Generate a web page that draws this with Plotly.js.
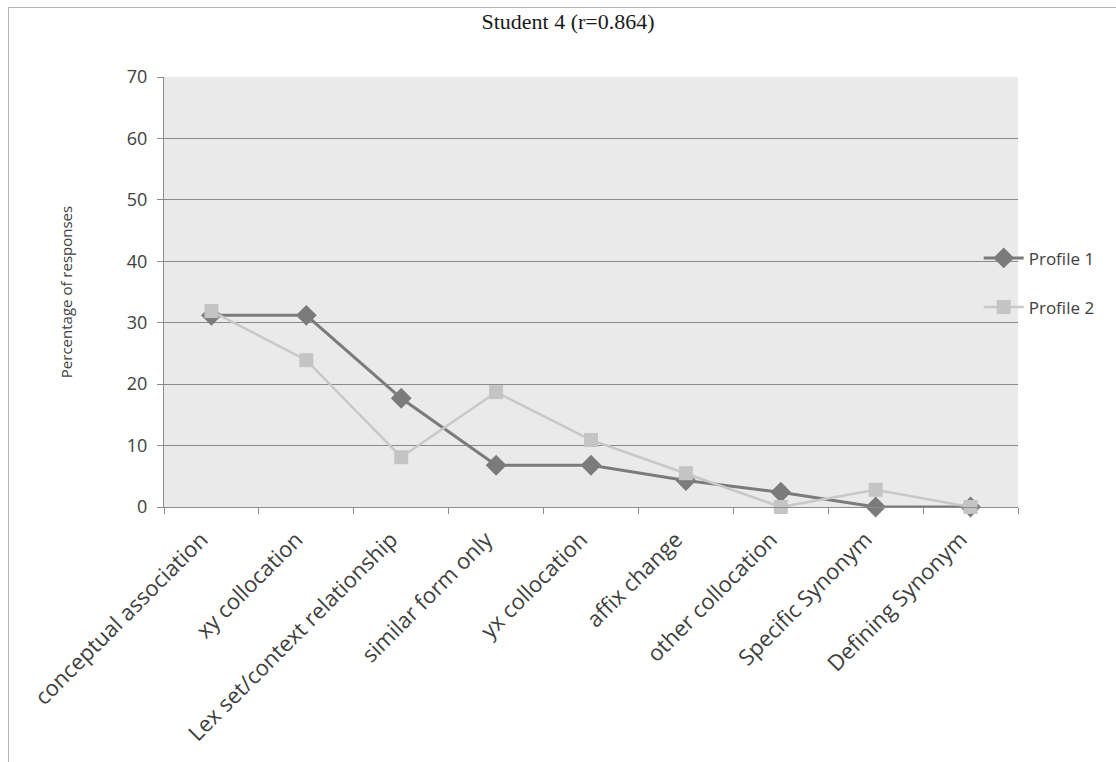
<!DOCTYPE html>
<html>
<head>
<meta charset="utf-8">
<script src="https://cdn.plot.ly/plotly-3.0.1.min.js"></script>
<style>
  html, body { margin: 0; padding: 0; background: #ffffff; }
  #frame { position: absolute; left: 8px; top: 7px; width: 1108px; height: 755px;
           border-left: 1px solid #b5b5b5; border-top: 1px solid #b5b5b5; box-sizing: border-box; }
  #chart { width: 1107px; height: 754px; }
</style>
</head>
<body>
<div id="frame"><div id="chart"></div></div>
<script>
const categories = [
  "conceptual association",
  "xy collocation",
  "Lex set/context relationship",
  "similar form only",
  "yx collocation",
  "affix change",
  "other collocation",
  "Specific Synonym",
  "Defining Synonym"
];
const profile1 = [31.2, 31.2, 17.7, 6.8, 6.8, 4.3, 2.4, 0, 0];
const profile2 = [31.9, 23.9, 8.1, 18.7, 10.9, 5.5, 0, 2.8, 0];
const seriesNames = ["Profile 1", "Profile 2"];
const yTicks = [0, 10, 20, 30, 40, 50, 60, 70];

const traces = [
  {
    x: categories, y: profile1, name: seriesNames[0], type: "scatter", mode: "lines+markers",
    legendgroup: "a", cliponaxis: false,
    line: { color: "#7b7b7b", width: 3 },
    marker: { symbol: "diamond", size: 16, color: "#7b7b7b" }
  },
  {
    x: categories, y: profile2, name: seriesNames[1], type: "scatter", mode: "lines+markers",
    legendgroup: "b", cliponaxis: false,
    line: { color: "#c8c8c8", width: 2.5 },
    marker: { symbol: "square", size: 14, color: "#c4c4c4" }
  }
];

const layout = {
  width: 1107, height: 754,
  margin: { l: 155, r: 98, t: 69, b: 255, autoexpand: false },
  paper_bgcolor: "#ffffff",
  plot_bgcolor: "#eaeaea",
  showlegend: true,
  title: {
    text: "Student 4 (r=0.864)",
    font: { family: "Liberation Serif, Times New Roman, serif", size: 22, color: "#1a1a1a" },
    x: 0.505, xref: "container", y: 0.983, yref: "container", yanchor: "middle", xanchor: "center"
  },
  font: { family: "Open Sans, sans-serif", color: "#404040" },
  xaxis: {
    type: "category",
    range: [-0.5, 8.5],
    tickson: "boundaries",
    ticks: "outside", ticklen: 6, tickcolor: "#8c8c8c",
    showline: true, linecolor: "#8c8c8c", linewidth: 1,
    showgrid: false,
    tickangle: -45,
    ticklabelstandoff: 10,
    ticklabelshift: -10,
    automargin: false,
    tickfont: { family: "Open Sans, sans-serif", size: 22, color: "#404040" }
  },
  yaxis: {
    range: [0, 70],
    tickvals: yTicks,
    ticktext: yTicks.map(String),
    ticks: "outside", ticklen: 6, tickcolor: "#8c8c8c",
    showline: true, linecolor: "#8c8c8c", linewidth: 1,
    showgrid: true, gridcolor: "#8a8a8a", gridwidth: 1,
    zeroline: false,
    automargin: false,
    ticklabelstandoff: 6,
    tickfont: { family: "Open Sans, sans-serif", size: 18, color: "#404040" },
    title: { text: "Percentage of responses", standoff: 50,
             font: { family: "Open Sans, sans-serif", size: 15, color: "#404040" } }
  },
  legend: {
    x: 0.954, xref: "paper", xanchor: "left", y: 0.62, yref: "paper", yanchor: "top",
    bgcolor: "rgba(0,0,0,0)",
    itemwidth: 40,
    traceorder: "grouped", tracegroupgap: 24,
    font: { family: "Open Sans, sans-serif", size: 17, color: "#404040" }
  }
};

Plotly.newPlot("chart", traces, layout, { displayModeBar: false, staticPlot: true });
</script>
</body>
</html>
